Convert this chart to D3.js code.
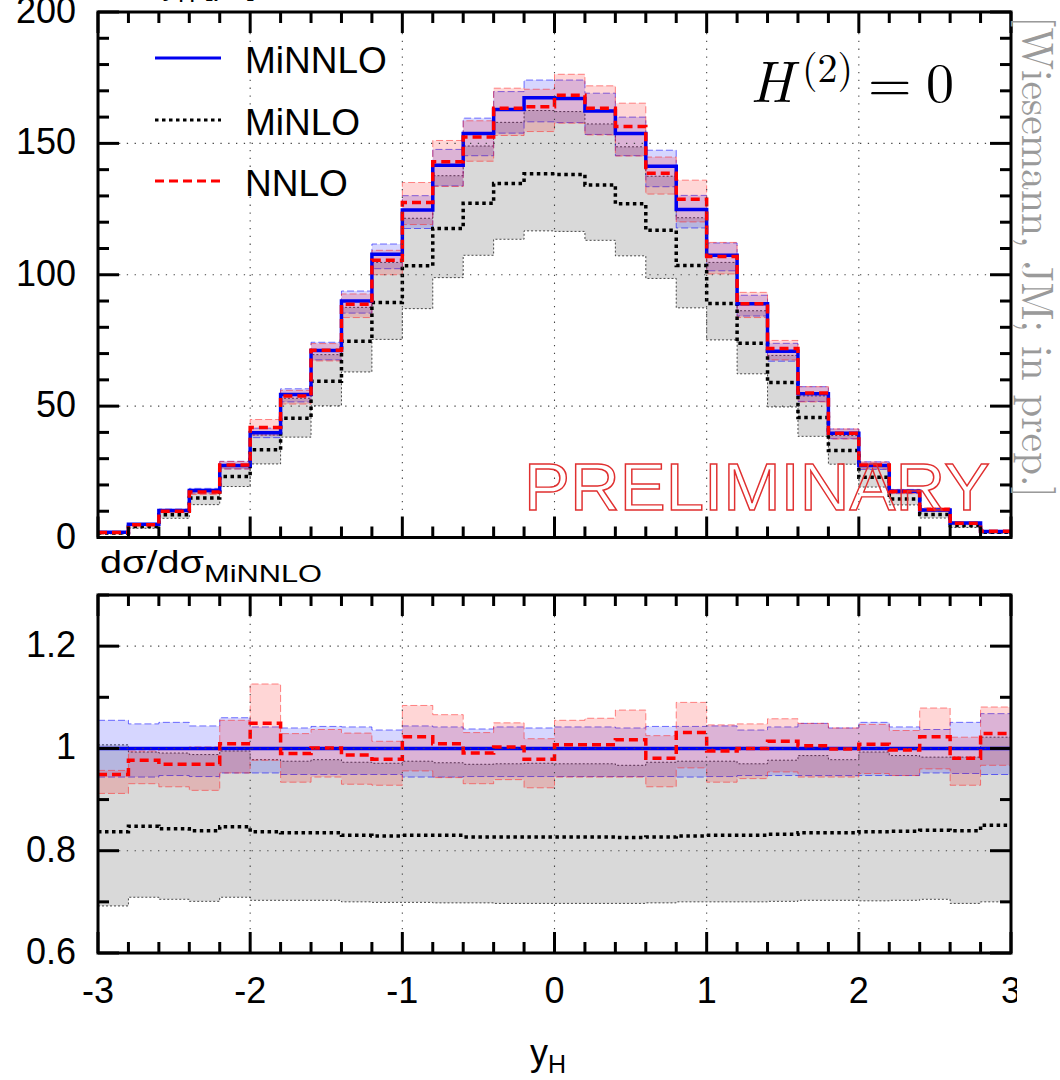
<!DOCTYPE html>
<html>
<head>
<meta charset="utf-8">
<script src="https://cdn.jsdelivr.net/npm/d3@7"></script>
<style>
body { margin: 0; background: #fff; }
svg { display: block; }
</style>
</head>
<body>
<script>
// bin edges in y_H
var binEdges = [-3.0,-2.8,-2.6,-2.4,-2.2,-2.0,-1.8,-1.6,-1.4,-1.2,-1.0,-0.8,-0.6,-0.4,-0.2,0.0,
                0.2,0.4,0.6,0.8,1.0,1.2,1.4,1.6,1.8,2.0,2.2,2.4,2.6,2.8,3.0];

// top panel: d sigma / d y_H [pb]
var miNNLO   = [2.0,5.0,10.3,17.9,27.4,39.9,54.4,71.2,90.0,107.8,124.6,141.7,153.8,162.9,167.4,
                167.1,162.3,153.8,141.3,124.8,107.4,89.0,70.9,54.7,39.7,27.4,17.6,10.5,5.5,2.3];
var miNNLOLo = [1.9,4.7,9.8,16.9,26.1,38.0,51.6,67.6,85.4,102.3,117.6,133.8,145.3,153.9,158.2,
                157.9,153.4,145.3,133.5,117.8,101.5,84.3,67.1,51.8,37.6,25.9,16.7,10.0,5.2,2.2];
var miNNLOHi = [2.1,5.2,10.8,18.7,29.0,41.6,56.6,74.3,93.8,111.7,130.1,147.7,159.6,169.7,174.1,
                174.1,169.1,160.0,147.4,130.2,112.1,92.2,73.9,57.4,41.3,28.8,18.3,10.9,5.8,2.5];
var miNLO    = [1.7,4.2,8.7,15.0,23.2,33.4,45.4,59.5,74.7,89.4,103.4,117.6,127.2,134.7,138.4,
                138.2,134.2,127.0,116.9,103.5,89.1,73.9,59.0,45.7,33.1,22.9,14.7,8.8,4.6,2.0];
var miNLOLo  = [1.4,3.5,7.3,12.5,19.4,28.0,38.2,50.1,63.0,75.4,87.1,98.9,107.4,113.5,116.7,
                116.5,113.1,107.2,98.6,87.4,75.2,62.3,49.7,38.5,27.9,19.2,12.4,7.4,3.8,1.6];
var miNLOHi  = [2.0,5.0,10.2,17.7,27.3,39.0,53.0,69.6,87.6,104.7,121.5,137.7,149.0,158.0,162.5,
                162.1,157.4,148.7,137.5,121.7,104.7,86.3,69.3,53.9,38.8,27.2,17.4,10.3,5.4,2.4];
var nnlo     = [1.9,4.9,10.0,17.3,27.6,41.9,53.9,71.3,88.8,105.5,127.5,143.0,152.4,163.4,163.9,
                168.3,163.4,156.4,138.6,128.7,106.9,89.0,71.9,55.0,39.7,27.6,17.5,10.7,5.4,2.4];
var nnloLo   = [1.8,4.7,9.5,16.4,26.1,39.0,50.8,67.2,83.7,100.0,119.1,133.6,143.2,153.0,154.5,
                157.7,153.2,145.2,130.7,120.1,100.3,83.7,67.6,51.6,37.5,26.1,16.7,10.1,5.1,2.2];
var nnloHi   = [1.95,5.0,10.3,18.0,28.9,44.9,56.0,73.8,92.7,109.3,135.1,151.1,158.6,171.0,170.6,
                176.3,171.9,165.3,144.8,136.0,112.3,93.3,75.0,57.4,41.3,28.7,18.2,11.3,5.6,2.5];

// bottom panel: ratio to MiNNLO
var rMiNNLO   = [1,1,1,1,1,1,1,1,1,1,1,1,1,1,1,1,1,1,1,1,1,1,1,1,1,1,1,1,1,1];
var rMiNNLOLo = [0.944,0.944,0.947,0.945,0.952,0.952,0.949,0.949,0.949,0.949,0.944,0.944,0.945,0.945,0.945,
                 0.945,0.945,0.945,0.945,0.944,0.945,0.947,0.947,0.947,0.947,0.947,0.947,0.952,0.951,0.949];
var rMiNNLOHi = [1.055,1.048,1.051,1.044,1.060,1.042,1.040,1.043,1.042,1.036,1.044,1.042,1.038,1.042,1.040,
                 1.042,1.042,1.040,1.043,1.043,1.044,1.036,1.042,1.049,1.040,1.051,1.042,1.037,1.051,1.068];
var rMiNLO    = [0.837,0.848,0.843,0.839,0.847,0.837,0.835,0.835,0.830,0.829,0.830,0.830,0.827,0.827,0.827,
                 0.827,0.827,0.826,0.827,0.829,0.830,0.830,0.832,0.835,0.835,0.837,0.838,0.840,0.839,0.850];
var rMiNLOLo  = [0.692,0.709,0.705,0.701,0.709,0.703,0.703,0.703,0.700,0.699,0.699,0.698,0.698,0.697,0.697,
                 0.697,0.697,0.697,0.698,0.700,0.700,0.700,0.701,0.703,0.703,0.702,0.703,0.705,0.697,0.700];
var rMiNLOHi  = [1.007,0.993,0.991,0.988,0.995,0.978,0.975,0.978,0.973,0.971,0.975,0.972,0.969,0.970,0.971,
                 0.970,0.970,0.967,0.973,0.975,0.975,0.970,0.977,0.986,0.978,0.993,0.986,0.983,0.983,1.022];
var rNNLO     = [0.949,0.977,0.969,0.969,1.009,1.049,0.990,1.001,0.987,0.979,1.023,1.009,0.991,1.003,0.979,
                 1.007,1.007,1.017,0.981,1.031,0.995,1.000,1.014,1.005,0.999,1.008,0.997,1.023,0.981,1.029];
var rNNLOLo   = [0.912,0.931,0.925,0.918,0.952,0.977,0.934,0.944,0.930,0.928,0.956,0.943,0.931,0.939,0.923,
                 0.944,0.944,0.944,0.925,0.962,0.934,0.941,0.954,0.944,0.944,0.951,0.947,0.960,0.928,0.967];
var rNNLOHi   = [0.957,0.995,0.998,1.003,1.055,1.126,1.029,1.037,1.030,1.014,1.084,1.066,1.031,1.050,1.019,
                 1.055,1.059,1.075,1.025,1.090,1.046,1.048,1.058,1.049,1.040,1.047,1.035,1.079,1.022,1.081];

var xTicks = [-3,-2,-1,0,1,2,3];
var xTickLabels = ["-3","-2","-1","0","1","2","3"];
var yTicksTop = [0,50,100,150,200];
var yTicksRatio = [0.6,0.8,1,1.2];
var yTickLabelsRatio = ["0.6","0.8","1","1.2"];
var legendNames = ["MiNNLO","MiNLO","NNLO"];

var W = 1060, H = 1080;
var L = 98, R = 1011;
var majorLen = 21, minorLen = 11;
var sans = "'Liberation Sans', Arial, Helvetica, sans-serif";
var serif = "'Latin Modern Roman', 'DejaVu Serif', 'Liberation Serif', serif";

var svg = d3.select("body").append("svg")
  .attr("width", W)
  .attr("height", H);

var x = d3.scaleLinear().domain([-3, 3]).range([L, R]);
var yTop = d3.scaleLinear().domain([0, 200]).range([537.5, 12]);
var yRat = d3.scaleLinear().domain([0.6, 1.3]).range([953, 595]);

var styles = {
  minlo:  {fill: "#d9d9d9", edge: "rgba(0,0,0,0.7)", edgeDash: "2,2", line: "#000", dash: "3.5,3.5", width: 3.5},
  minnlo: {fill: "rgba(0,0,255,0.16)", edge: "rgba(0,0,255,0.55)", edgeDash: "7,3", line: "#0000f0", dash: null, width: 3.5},
  nnlo:   {fill: "rgba(255,0,0,0.16)", edge: "rgba(255,40,40,0.55)", edgeDash: "7,3", line: "#ff0000", dash: "9,5", width: 3.5}
};

// points for a histogram step: one per bin edge, last bin repeated at the right edge
function stepPoints(arr) {
  return binEdges.map(function(e, i) { return {e: e, i: Math.min(i, arr.length - 1)}; });
}

function drawPanel(y, clipId, bands, lines, gridY, majorY, labelsY, minorY) {
  var top = y.range()[1], bot = y.range()[0];
  svg.append("clipPath").attr("id", clipId)
    .append("rect").attr("x", L).attr("y", top).attr("width", R - L).attr("height", bot - top);
  var g = svg.append("g").attr("clip-path", "url(#" + clipId + ")");

  // uncertainty bands as stepped areas with dashed outlines
  bands.forEach(function(b) {
    var st = styles[b.style];
    var pts = stepPoints(b.lo);
    var area = d3.area()
      .x(function(d) { return x(d.e); })
      .y0(function(d) { return y(b.lo[d.i]); })
      .y1(function(d) { return y(b.hi[d.i]); })
      .curve(d3.curveStepAfter);
    g.append("path").attr("d", area(pts)).attr("fill", st.fill).attr("stroke", "none");
    [b.lo, b.hi].forEach(function(arr) {
      var edge = d3.line()
        .x(function(d) { return x(d.e); })
        .y(function(d) { return y(arr[d.i]); })
        .curve(d3.curveStepAfter);
      g.append("path")
        .attr("d", edge(pts))
        .attr("fill", "none")
        .attr("stroke", st.edge)
        .attr("stroke-width", 1)
        .attr("stroke-dasharray", st.edgeDash);
    });
  });

  // grid
  var grid = svg.append("g")
    .attr("stroke", "#444")
    .attr("stroke-width", 1.1)
    .attr("stroke-dasharray", "1.3,6.5");
  [-2, -1, 0, 1, 2].forEach(function(v) {
    grid.append("line")
      .attr("x1", x(v)).attr("x2", x(v))
      .attr("y1", top + majorLen).attr("y2", bot - majorLen);
  });
  gridY.forEach(function(v) {
    grid.append("line")
      .attr("x1", L + majorLen).attr("x2", R - majorLen)
      .attr("y1", y(v)).attr("y2", y(v));
  });

  // central step lines
  lines.forEach(function(ln) {
    var st = styles[ln.style];
    var path = d3.line()
      .x(function(d) { return x(d.e); })
      .y(function(d) { return y(ln.values[d.i]); })
      .curve(d3.curveStepAfter);
    g.append("path")
      .attr("d", path(stepPoints(ln.values)))
      .attr("fill", "none")
      .attr("stroke", st.line)
      .attr("stroke-width", st.width)
      .attr("stroke-dasharray", st.dash);
  });

  // ticks on all four sides
  var t = svg.append("g").attr("stroke", "#000").attr("stroke-width", 3);
  x.ticks(30).forEach(function(v) {
    var len = (Math.abs(v - Math.round(v)) < 1e-6) ? majorLen : minorLen;
    t.append("line").attr("x1", x(v)).attr("x2", x(v)).attr("y1", bot).attr("y2", bot - len);
    t.append("line").attr("x1", x(v)).attr("x2", x(v)).attr("y1", top).attr("y2", top + len);
  });
  minorY.forEach(function(v) {
    var isMajor = majorY.some(function(m) { return Math.abs(m - v) < 1e-6; });
    var len = isMajor ? majorLen : minorLen;
    t.append("line").attr("x1", L).attr("x2", L + len).attr("y1", y(v)).attr("y2", y(v));
    t.append("line").attr("x1", R).attr("x2", R - len).attr("y1", y(v)).attr("y2", y(v));
  });

  // frame
  svg.append("rect")
    .attr("x", L).attr("y", top).attr("width", R - L).attr("height", bot - top)
    .attr("fill", "none").attr("stroke", "#000").attr("stroke-width", 3);

  // y tick labels
  svg.append("g").selectAll("text")
    .data(majorY)
    .enter()
    .append("text")
    .attr("x", 76)
    .attr("y", function(d) { return y(d) + 11; })
    .attr("text-anchor", "end")
    .attr("font-family", sans)
    .attr("font-size", "36px")
    .text(function(d, i) { return labelsY[i]; });
}

drawPanel(yTop, "clipTop",
  [{style: "minlo", lo: miNLOLo, hi: miNLOHi},
   {style: "minnlo", lo: miNNLOLo, hi: miNNLOHi},
   {style: "nnlo", lo: nnloLo, hi: nnloHi}],
  [{style: "minlo", values: miNLO},
   {style: "minnlo", values: miNNLO},
   {style: "nnlo", values: nnlo}],
  [50, 100, 150], yTicksTop, yTicksTop.map(String), yTop.ticks(20));

drawPanel(yRat, "clipRat",
  [{style: "minlo", lo: rMiNLOLo, hi: rMiNLOHi},
   {style: "minnlo", lo: rMiNNLOLo, hi: rMiNNLOHi},
   {style: "nnlo", lo: rNNLOLo, hi: rNNLOHi}],
  [{style: "minlo", values: rMiNLO},
   {style: "minnlo", values: rMiNNLO},
   {style: "nnlo", values: rNNLO}],
  [0.8, 1.0, 1.2], yTicksRatio, yTickLabelsRatio, yRat.ticks(7));

// x tick labels (the last one is clipped like the original)
svg.append("clipPath").attr("id", "clipX")
  .append("rect").attr("x", 0).attr("y", 960).attr("width", 1017).attr("height", 60);
svg.append("g").attr("clip-path", "url(#clipX)")
  .selectAll("text")
  .data(xTicks)
  .enter()
  .append("text")
  .attr("x", function(d) { return x(d); })
  .attr("y", 1003)
  .attr("text-anchor", "middle")
  .attr("font-family", sans)
  .attr("font-size", "36px")
  .text(function(d, i) { return xTickLabels[i]; });

// x axis title
var xt = svg.append("text")
  .attr("x", 530).attr("y", 1065)
  .attr("font-family", sans).attr("font-size", "36px");
xt.append("tspan").text("y");
xt.append("tspan").attr("font-size", "25px").attr("dy", 8).text("H");

// y axis titles (the upper one sits mostly above the page edge, as in the original)
var yt = svg.append("text")
  .attr("x", 100).attr("y", -6)
  .attr("font-family", sans).attr("font-size", "31px");
yt.append("tspan").attr("textLength", 78).text("dσ/dy");
yt.append("tspan").attr("font-size", "24px").attr("dy", 8).text("H");
yt.append("tspan").attr("dy", -8).text(" [pb]");

var rt = svg.append("text")
  .attr("x", 100).attr("y", 573)
  .attr("font-family", sans).attr("font-size", "31px");
rt.append("tspan").attr("textLength", 104).attr("lengthAdjust", "spacingAndGlyphs").text("dσ/dσ");
rt.append("tspan").attr("font-size", "24px").attr("dy", 9)
  .attr("textLength", 118).attr("lengthAdjust", "spacingAndGlyphs").text("MiNNLO");

// legend
var legY = [58, 120, 181];
var legStyles = ["minnlo", "minlo", "nnlo"];
legendNames.forEach(function(name, i) {
  var st = styles[legStyles[i]];
  svg.append("line")
    .attr("x1", 155).attr("x2", 221)
    .attr("y1", legY[i]).attr("y2", legY[i])
    .attr("stroke", st.line)
    .attr("stroke-width", 3)
    .attr("stroke-dasharray", st.dash);
  svg.append("text")
    .attr("x", 245).attr("y", legY[i] + 15)
    .attr("font-family", sans)
    .attr("font-size", "37px")
    .text(name);
});

// H^(2) = 0
var ht = svg.append("g").attr("font-family", serif).attr("fill", "#000");
ht.append("text").attr("x", 750).attr("y", 102).attr("font-size", "58px")
  .attr("font-style", "italic").text("H");
ht.append("text").attr("x", 802).attr("y", 82).attr("font-size", "40px").text("(2)");
ht.append("text").attr("x", 868).attr("y", 102).attr("font-size", "56px").text("=");
ht.append("text").attr("x", 926).attr("y", 102).attr("font-size", "56px").text("0");

// side note
svg.append("text")
  .attr("transform", "translate(1022,16) rotate(90)")
  .attr("font-family", serif)
  .attr("font-size", "45px")
  .attr("fill", "#9a9a9a")
  .attr("textLength", 482)
  .attr("lengthAdjust", "spacingAndGlyphs")
  .text("[Wiesemann, JM; in prep.]");

// watermark
svg.append("text")
  .attr("x", 524).attr("y", 510)
  .attr("font-family", sans)
  .attr("font-size", "66px")
  .attr("fill", "none")
  .attr("stroke", "#e03030")
  .attr("stroke-width", 1.4)
  .attr("textLength", 466)
  .attr("lengthAdjust", "spacingAndGlyphs")
  .text("PRELIMINARY");
</script>
</body>
</html>
